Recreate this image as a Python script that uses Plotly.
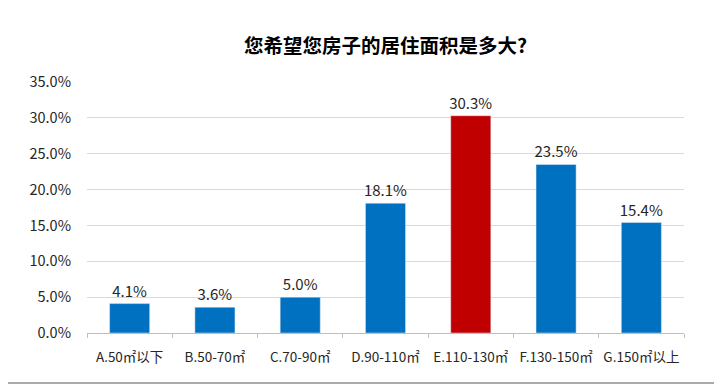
import plotly.graph_objects as go

categories = ["A.50㎡以下", "B.50-70㎡", "C.70-90㎡", "D.90-110㎡", "E.110-130㎡", "F.130-150㎡", "G.150㎡以上"]
values = [4.1, 3.6, 5.0, 18.1, 30.3, 23.5, 15.4]
colors = ["#0070C0", "#0070C0", "#0070C0", "#0070C0", "#C00000", "#0070C0", "#0070C0"]
y_ticks = [0, 5, 10, 15, 20, 25, 30, 35]
title = "您希望您房子的居住面积是多大?"

fig = go.Figure(go.Bar(
    x=categories, y=values, marker_color=colors, width=0.47,
    text=[f"{v:.1f}%" for v in values], textposition="outside", constraintext="none",
    textfont=dict(size=15, color="#262626", family="Noto Sans CJK SC"),
    cliponaxis=False,
))

fig.update_layout(
    width=714, height=378,
    margin=dict(l=79, r=38, t=74, b=53, autoexpand=False),
    paper_bgcolor="white", plot_bgcolor="white",
    showlegend=False,
    title=dict(text="<b>" + title + "</b>", x=0.5, xref="paper", y=0.9, yanchor="middle",
               font=dict(size=19.5, color="#000000", family="Noto Sans CJK SC")),
    font=dict(family="Noto Sans CJK SC"),
)
fig.update_yaxes(range=[0, 35], tickvals=y_ticks, ticktext=[f"{v:.1f}%" for v in y_ticks],
                 showgrid=True, gridcolor="#D9D9D9", gridwidth=1, zeroline=False,
                 tickfont=dict(size=14.5, color="#262626"), ticklabelstandoff=15, showline=False)
fig.update_xaxes(showline=True, linecolor="#BFBFBF", linewidth=1, ticks="outside", ticklen=4,
                 tickcolor="#BFBFBF", tickson="boundaries", ticklabelstandoff=12, tickangle=0,
                 automargin=False,
                 tickfont=dict(size=13.5, color="#262626", family="Liberation Sans Narrow, Noto Sans CJK SC"))

fig.add_shape(type="line", xref="paper", yref="paper", x0=-0.2, x1=1.2, y0=-0.199, y1=-0.199,
              line=dict(color="#AAAAAA", width=2))
fig.write_html("out.html")
